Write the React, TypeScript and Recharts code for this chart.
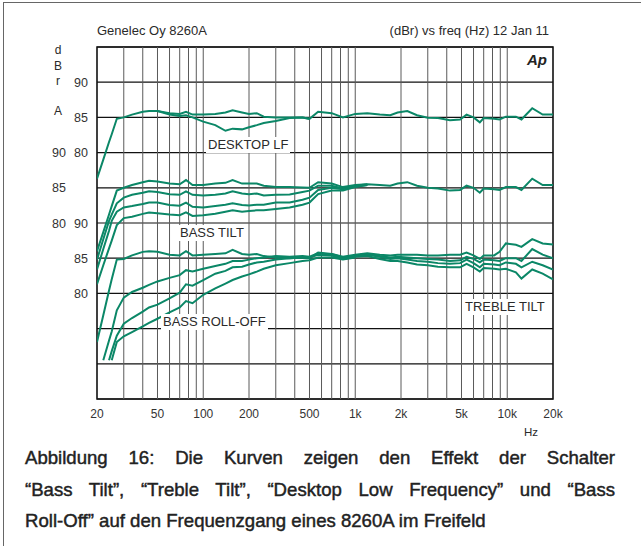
import type React from "react";
import { LineChart, Line, XAxis, YAxis, CartesianGrid, ReferenceLine, ReferenceArea } from "recharts";

const FONT = '"Liberation Sans", Arial, Helvetica, sans-serif';
const CURVE = "#0b8767";
const _ = null;

// frequency points (Hz) shared by every trace
const FREQ_HZ = [
  20, 22, 24, 25, 27, 30, 34, 40, 44, 50,
  60, 70, 77, 85, 100, 120, 140, 156, 180, 200,
  225, 250, 300, 370, 450, 500, 570, 700, 830, 1000,
  1200, 1450, 1700, 1900, 2200, 2550, 3000, 3500, 4200, 4900,
  5400, 6000, 6600, 7000, 8200, 8900, 9800, 11400, 12400, 14600,
  17100, 20000,
];

// DESKTOP LF block (dBrA)
const DESKTOP_FLAT = [
  76.3, 79.0, 81.5, 82.6, 84.8, 85.0, 85.4, 85.8, 85.9, 85.9,
  85.6, 85.5, 85.8, 85.4, 85.4, 85.5, 85.7, 86.0, 85.7, 85.5,
  85.6, 85.1, 85.0, 85.0, 85.0, 84.8, 85.8, 85.6, 85.0, 85.5,
  85.6, 85.4, 85.3, 85.7, 85.9, 85.3, 84.95, 84.9, 84.6, 84.7,
  85.4, 85.0, 84.3, 84.9, 84.8, 84.7, 85.1, 85.1, 84.7, 86.3,
  85.4, 85.4,
];
const DESKTOP_CUT = [
  _, _, _, _, _, _, _, _, _, 85.9,
  85.4, 85.2, 85.3, 85.0, 84.4, 83.9, 83.1, 83.4, 83.3, 83.6,
  83.9, 84.2, 84.5, 84.9, 85.0, 84.8, _, _, _, _,
  _, _, _, _, _, _, _, _, _, _,
  _, _, _, _, _, _, _, _, _, _,
  _, _,
];

// BASS TILT block
const TILT_0 = [
  76.0, 78.7, 81.2, 82.4, 84.6, 85.0, 85.4, 85.8, 86.0, 85.9,
  85.6, 85.5, 86.1, 85.4, 85.4, 85.6, 85.7, 86.1, 85.6, 85.6,
  85.6, 85.3, 85.1, 85.1, 85.05, 85.0, 85.8, 85.6, 85.1, 85.4,
  85.5, 85.4, 85.3, 85.6, 85.8, 85.3, 85.0, 84.9, 84.6, 84.7,
  85.3, 85.0, 84.3, 84.9, 84.8, 84.7, 85.1, 85.1, 84.7, 86.3,
  85.4, 85.4,
];
const TILT_2 = [
  74.8, 77.7, 80.3, 81.2, 82.8, 83.6, 84.0, 84.3, 84.5, 84.4,
  84.1, 84.0, 84.5, 84.0, 83.9, 84.0, 84.2, 84.5, 84.2, 84.1,
  84.2, 83.9, 84.0, 84.05, 84.4, 84.6, 85.3, 85.3, 84.9, 85.3,
  85.5, _, _, _, _, _, _, _, _, _,
  _, _, _, _, _, _, _, _, _, _,
  _, _,
];
const TILT_4 = [
  73.4, 76.3, 78.9, 80.3, 81.6, 82.2, 82.4, 82.7, 82.9, 82.9,
  82.55, 82.45, 82.9, 82.3, 82.2, 82.4, 82.6, 82.8, 82.55, 82.5,
  82.6, 82.6, 82.9, 82.9, 83.3, 83.6, 84.7, 85.0, 84.8, 85.2,
  85.4, _, _, _, _, _, _, _, _, _,
  _, _, _, _, _, _, _, _, _, _,
  _, _,
];
const TILT_6 = [
  71.3, 74.0, 76.4, 77.5, 79.7, 80.7, 80.9, 81.3, 81.5, 81.4,
  81.2, 81.1, 81.5, 81.0, 81.1, 81.3, 81.6, 81.8, 81.6, 81.7,
  81.8, 81.8, 82.0, 82.2, 82.6, 82.9, 84.1, 84.6, 84.6, 85.1,
  85.4, _, _, _, _, _, _, _, _, _,
  _, _, _, _, _, _, _, _, _, _,
  _, _,
];

// BASS ROLL-OFF / TREBLE TILT block
const LOWER_FLAT = [
  73.1, 76.9, 80.4, 82.0, 84.8, 84.9, 85.4, 85.9, 86.0, 85.9,
  85.5, 85.4, 86.0, 85.4, 85.5, 85.6, 85.7, 86.2, 85.6, 85.5,
  85.6, 85.3, 85.1, 85.0, 85.1, 85.0, 85.8, 85.6, 85.1, 85.4,
  85.6, 85.3, 85.1, 85.2, 85.1, 85.0, 84.9, 84.8, 84.6, 84.7,
  85.2, 84.9, 84.4, 84.8, 84.7, 84.6, 85.0, 85.0, 84.6, 86.3,
  85.5, 85.0,
];
const ROLLOFF_1 = [
  _, 70.5, 73.3, 74.6, 77.6, 79.4, 80.2, 80.8, 81.2, 81.7,
  82.2, 82.6, 83.3, 83.1, 83.5, 83.9, 84.2, 84.6, 84.6, 84.8,
  85.0, 85.1, 85.3, 85.2, 85.3, 85.2, 85.7, 85.5, 85.0, 85.3,
  _, _, _, _, _, _, _, _, _, _,
  _, _, _, _, _, _, _, _, _, _,
  _, _,
];
const ROLLOFF_2 = [
  _, _, 70.5, 71.8, 74.0, 75.7, 76.5, 77.4, 78.0, 78.4,
  79.3, 80.1, 81.3, 81.1, 81.9, 82.8, 83.2, 83.7, 83.8, 84.1,
  84.4, 84.5, 84.8, 85.0, 85.1, 85.1, 85.5, 85.4, 84.9, 85.2,
  _, _, _, _, _, _, _, _, _, _,
  _, _, _, _, _, _, _, _, _, _,
  _, _,
];
const ROLLOFF_3 = [
  _, _, _, 70.5, 73.1, 73.9, 74.5, 75.3, 75.8, 76.4,
  77.3, 78.0, 78.9, 78.6, 79.8, 80.7, 81.4, 81.9, 82.4, 82.7,
  83.1, 83.5, 84.0, 84.3, 84.6, 84.7, 85.1, 85.1, 84.8, 85.1,
  _, _, _, _, _, _, _, _, _, _,
  _, _, _, _, _, _, _, _, _, _,
  _, _,
];
const TREBLE_UP = [
  _, _, _, _, _, _, _, _, _, _,
  _, _, _, _, _, _, _, _, _, _,
  _, _, _, _, _, _, _, 85.6, 85.2, 85.5,
  85.7, 85.5, 85.4, 85.5, 85.5, 85.5, 85.4, 85.4, 85.5, 85.5,
  85.8, 85.4, 84.9, 85.4, 85.4, 85.9, 87.1, 86.9, 86.6, 87.7,
  87.1, 86.95,
];
const TREBLE_DOWN_2 = [
  _, _, _, _, _, _, _, _, _, _,
  _, _, _, _, _, _, _, _, _, _,
  _, _, _, _, _, _, _, 85.5, 85.0, 85.3,
  85.5, 85.2, 84.9, 85.0, 84.8, 84.6, 84.5, 84.3, 84.2, 84.3,
  84.8, 84.3, 83.7, 84.2, 84.1, 84.0, 84.4, 84.2, 83.7, 84.5,
  84.0, 83.4,
];
const TREBLE_DOWN_4 = [
  _, _, _, _, _, _, _, _, _, _,
  _, _, _, _, _, _, _, _, _, _,
  _, _, _, _, _, _, _, 85.4, 84.9, 85.2,
  85.3, 84.9, 84.6, 84.6, 84.4, 84.1, 84.0, 83.8, 83.7, 83.7,
  84.2, 83.7, 83.1, 83.6, 83.5, 83.4, 83.5, 83.0, 82.1, 83.4,
  82.8, 82.0,
];

// each block is shifted onto one shared 0..50 scale
const DESKTOP_BASE = 45;
const TILT_BASE = 55;
const LOWER_BASE = 65;

const SERIES = [
  { key: "desktopFlat", values: DESKTOP_FLAT, base: DESKTOP_BASE },
  { key: "desktopCut", values: DESKTOP_CUT, base: DESKTOP_BASE },
  { key: "tilt0", values: TILT_0, base: TILT_BASE },
  { key: "tilt2", values: TILT_2, base: TILT_BASE },
  { key: "tilt4", values: TILT_4, base: TILT_BASE },
  { key: "tilt6", values: TILT_6, base: TILT_BASE },
  { key: "lowerFlat", values: LOWER_FLAT, base: LOWER_BASE },
  { key: "rolloff1", values: ROLLOFF_1, base: LOWER_BASE },
  { key: "rolloff2", values: ROLLOFF_2, base: LOWER_BASE },
  { key: "rolloff3", values: ROLLOFF_3, base: LOWER_BASE },
  { key: "trebleUp", values: TREBLE_UP, base: LOWER_BASE },
  { key: "trebleDown2", values: TREBLE_DOWN_2, base: LOWER_BASE },
  { key: "trebleDown4", values: TREBLE_DOWN_4, base: LOWER_BASE },
];

const X_TICKS = [20, 50, 100, 200, 500, 1000, 2000, 5000, 10000, 20000];
const X_TICK_LABELS = ["20", "50", "100", "200", "500", "1k", "2k", "5k", "10k", "20k"];
const GRID_HZ = [
  30, 40, 50, 60, 70, 80, 90, 100,
  200, 300, 400, 500, 600, 700, 800, 900, 1000,
  2000, 3000, 4000, 5000, 6000, 7000, 8000, 9000, 10000,
];
const LEVEL_TICKS = [0, 5, 10, 15, 20, 25, 30, 35, 40, 45, 50];
const INNER_LABELS = ["", "", "", "80", "85", "90", "", "80", "85", "90", ""];
const OUTER_LABELS = ["", "", "", "", "", "80", "85", "90", "", "", ""];
const MINOR_TICKS = Array.from({ length: 51 }, (_v, i) => i);

const rows = FREQ_HZ.map((f, i) => {
  const row: Record<string, number | null> = { f };
  SERIES.forEach((s) => {
    const v = s.values[i];
    row[s.key] = v == null ? null : v - s.base;
  });
  return row;
});

function LevelTick({ x, y, payload }: any) {
  const idx = LEVEL_TICKS.indexOf(payload.value);
  const style = { fontSize: 12.5, fill: "#333", fontFamily: FONT };
  return (
    <g>
      {INNER_LABELS[idx] && (
        <text x={x} y={y} dy={4.5} textAnchor="end" style={style}>{INNER_LABELS[idx]}</text>
      )}
      {OUTER_LABELS[idx] && (
        <text x={x - 22} y={y} dy={4.5} textAnchor="end" style={style}>{OUTER_LABELS[idx]}</text>
      )}
    </g>
  );
}

const abs = (left: number, top: number, extra: React.CSSProperties = {}): React.CSSProperties => ({
  position: "absolute",
  left,
  top,
  fontFamily: FONT,
  color: "#2a2a2a",
  whiteSpace: "nowrap",
  ...extra,
});

const CURVE_LABEL: React.CSSProperties = {
  fontSize: 13,
  lineHeight: "16px",
  background: "#fff",
  padding: "0 2px",
};

const CAPTION_LINE: React.CSSProperties = {
  fontSize: 18.6,
  lineHeight: "31.5px",
  textAlign: "justify",
  textAlignLast: "justify",
  WebkitTextStroke: "0.45px #222",
};

export default function App() {
  return (
    <div style={{ position: "absolute", left: 0, top: 0, width: 641, height: 546, background: "#fff", overflow: "hidden" }}>
      <div style={{ position: "absolute", left: 3, top: 2, right: -2, bottom: -2, borderTop: "1.5px solid #666", borderLeft: "1.5px solid #666" }} />

      <LineChart width={641} height={430} data={rows} margin={{ top: 47, right: 88, bottom: 11, left: 57 }}>
        <CartesianGrid vertical={false} stroke="#111" strokeWidth={1.2} />
        {GRID_HZ.map((f) => (
          <ReferenceLine key={f} x={f} stroke="#5a5a5a" strokeWidth={1} />
        ))}
        <XAxis
          dataKey="f"
          type="number"
          scale="log"
          domain={[20, 20000]}
          allowDataOverflow
          ticks={X_TICKS}
          interval={0}
          tickFormatter={(v: number) => X_TICK_LABELS[X_TICKS.indexOf(v)]}
          axisLine={false}
          tickLine={false}
          tickMargin={4}
          height={20}
          tick={{ fontSize: 12, fill: "#333", fontFamily: FONT }}
        />
        <YAxis
          type="number"
          domain={[0, 50]}
          allowDataOverflow
          ticks={LEVEL_TICKS}
          interval={0}
          width={40}
          axisLine={false}
          tickLine={false}
          tickSize={0}
          tickMargin={9}
          tick={<LevelTick />}
        />
        <YAxis
          yAxisId="minor"
          type="number"
          domain={[0, 50]}
          ticks={MINOR_TICKS}
          interval={0}
          mirror
          axisLine={false}
          tick={false}
          tickSize={4}
          tickLine={{ stroke: "#111", strokeWidth: 1 }}
        />
        {SERIES.map((s) => (
          <Line
            key={s.key}
            dataKey={s.key}
            type="linear"
            stroke={CURVE}
            strokeWidth={2}
            dot={false}
            activeDot={false}
            isAnimationActive={false}
          />
        ))}
        <ReferenceArea x1={20} x2={20000} y1={0} y2={50} fill="none" stroke="#111" strokeWidth={1.6} />
      </LineChart>

      <div style={abs(97, 23, { fontSize: 13, lineHeight: "16px" })}>Genelec Oy 8260A</div>
      <div style={abs(0, 23, { fontSize: 13, lineHeight: "16px", width: 549, textAlign: "right" })}>
        (dBr) vs freq (Hz) 12 Jan 11
      </div>
      <div style={abs(527, 51, { fontSize: 15, lineHeight: "18px", fontWeight: 700, fontStyle: "italic", color: "#222" })}>Ap</div>

      {["d", "B", "r"].map((c, i) => (
        <div key={c} style={abs(52, 43 + i * 15.5, { width: 12, textAlign: "center", fontSize: 12, lineHeight: "15px" })}>{c}</div>
      ))}
      <div style={abs(52, 103.5, { width: 12, textAlign: "center", fontSize: 12, lineHeight: "15px" })}>A</div>

      <div style={abs(206, 137, CURVE_LABEL)}>DESKTOP LF</div>
      <div style={abs(178, 225, CURVE_LABEL)}>BASS TILT</div>
      <div style={abs(161, 314, CURVE_LABEL)}>BASS ROLL-OFF</div>
      <div style={abs(463, 299, CURVE_LABEL)}>TREBLE TILT</div>

      <div style={abs(524, 425, { fontSize: 11.5, lineHeight: "15px" })}>Hz</div>

      <div style={abs(25, 442, { width: 590, color: "#222" })}>
        <div style={CAPTION_LINE}>Abbildung 16: Die Kurven zeigen den Effekt der Schalter</div>
        <div style={CAPTION_LINE}>“Bass Tilt”, “Treble Tilt”, “Desktop Low Frequency” und “Bass</div>
        <div style={{ ...CAPTION_LINE, textAlign: "left", textAlignLast: "left" }}>
          Roll-Off” auf den Frequenzgang eines 8260A im Freifeld
        </div>
      </div>
    </div>
  );
}
